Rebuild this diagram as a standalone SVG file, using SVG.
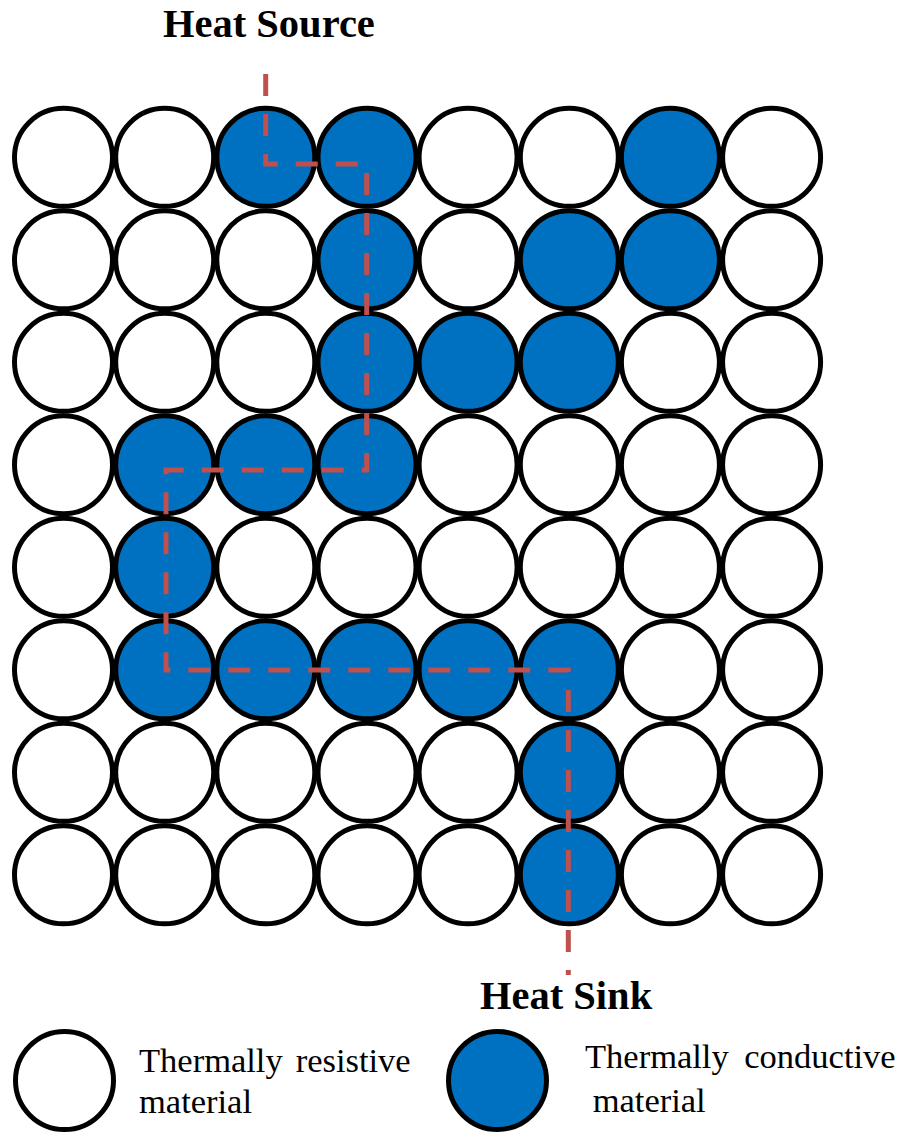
<svg xmlns="http://www.w3.org/2000/svg" width="905" height="1133" viewBox="0 0 905 1133">
<defs>
<style>
.r{fill:#FFFFFF;stroke:#000000;stroke-width:5}
.c{fill:#0070C0;stroke:#000000;stroke-width:5}
.path{fill:none;stroke:#C0504D;stroke-width:5;stroke-dasharray:22 18}
.title{font-family:"Liberation Serif","Times New Roman",serif;font-weight:bold;font-size:40.5px;fill:#000000}
.leg{font-family:"Liberation Serif","Times New Roman",serif;font-size:34.5px;fill:#000000}
</style>
</defs>
<rect width="905" height="1133" fill="#FFFFFF"/>
<g id="grid">
<g id="row1">
<circle class="r" cx="63.5" cy="157.3" r="49"/><circle class="r" cx="164.7" cy="157.3" r="49"/><circle class="c" cx="265.8" cy="157.3" r="49"/><circle class="c" cx="367" cy="157.3" r="49"/><circle class="r" cx="468.1" cy="157.3" r="49"/><circle class="r" cx="569.3" cy="157.3" r="49"/><circle class="c" cx="670.4" cy="157.3" r="49"/><circle class="r" cx="771.6" cy="157.3" r="49"/>
</g>
<g id="row2">
<circle class="r" cx="63.5" cy="259.8" r="49"/><circle class="r" cx="164.7" cy="259.8" r="49"/><circle class="r" cx="265.8" cy="259.8" r="49"/><circle class="c" cx="367" cy="259.8" r="49"/><circle class="r" cx="468.1" cy="259.8" r="49"/><circle class="c" cx="569.3" cy="259.8" r="49"/><circle class="c" cx="670.4" cy="259.8" r="49"/><circle class="r" cx="771.6" cy="259.8" r="49"/>
</g>
<g id="row3">
<circle class="r" cx="63.5" cy="362.3" r="49"/><circle class="r" cx="164.7" cy="362.3" r="49"/><circle class="r" cx="265.8" cy="362.3" r="49"/><circle class="c" cx="367" cy="362.3" r="49"/><circle class="c" cx="468.1" cy="362.3" r="49"/><circle class="c" cx="569.3" cy="362.3" r="49"/><circle class="r" cx="670.4" cy="362.3" r="49"/><circle class="r" cx="771.6" cy="362.3" r="49"/>
</g>
<g id="row4">
<circle class="r" cx="63.5" cy="464.8" r="49"/><circle class="c" cx="164.7" cy="464.8" r="49"/><circle class="c" cx="265.8" cy="464.8" r="49"/><circle class="c" cx="367" cy="464.8" r="49"/><circle class="r" cx="468.1" cy="464.8" r="49"/><circle class="r" cx="569.3" cy="464.8" r="49"/><circle class="r" cx="670.4" cy="464.8" r="49"/><circle class="r" cx="771.6" cy="464.8" r="49"/>
</g>
<g id="row5">
<circle class="r" cx="63.5" cy="567.3" r="49"/><circle class="c" cx="164.7" cy="567.3" r="49"/><circle class="r" cx="265.8" cy="567.3" r="49"/><circle class="r" cx="367" cy="567.3" r="49"/><circle class="r" cx="468.1" cy="567.3" r="49"/><circle class="r" cx="569.3" cy="567.3" r="49"/><circle class="r" cx="670.4" cy="567.3" r="49"/><circle class="r" cx="771.6" cy="567.3" r="49"/>
</g>
<g id="row6">
<circle class="r" cx="63.5" cy="669.8" r="49"/><circle class="c" cx="164.7" cy="669.8" r="49"/><circle class="c" cx="265.8" cy="669.8" r="49"/><circle class="c" cx="367" cy="669.8" r="49"/><circle class="c" cx="468.1" cy="669.8" r="49"/><circle class="c" cx="569.3" cy="669.8" r="49"/><circle class="r" cx="670.4" cy="669.8" r="49"/><circle class="r" cx="771.6" cy="669.8" r="49"/>
</g>
<g id="row7">
<circle class="r" cx="63.5" cy="772.3" r="49"/><circle class="r" cx="164.7" cy="772.3" r="49"/><circle class="r" cx="265.8" cy="772.3" r="49"/><circle class="r" cx="367" cy="772.3" r="49"/><circle class="r" cx="468.1" cy="772.3" r="49"/><circle class="c" cx="569.3" cy="772.3" r="49"/><circle class="r" cx="670.4" cy="772.3" r="49"/><circle class="r" cx="771.6" cy="772.3" r="49"/>
</g>
<g id="row8">
<circle class="r" cx="63.5" cy="874.8" r="49"/><circle class="r" cx="164.7" cy="874.8" r="49"/><circle class="r" cx="265.8" cy="874.8" r="49"/><circle class="r" cx="367" cy="874.8" r="49"/><circle class="r" cx="468.1" cy="874.8" r="49"/><circle class="c" cx="569.3" cy="874.8" r="49"/><circle class="r" cx="670.4" cy="874.8" r="49"/><circle class="r" cx="771.6" cy="874.8" r="49"/>
</g>
</g>
<g id="connectors">
<path class="path" d="M265.7,74 V164 H366.7 V470 H166 V670 H568.3 V975"/>
</g>
<g id="heat-source"><text class="title" x="163" y="36.7">Heat Source</text></g>
<g id="heat-sink"><text class="title" x="480" y="1009.3">Heat Sink</text></g>
<g id="legend-resistive">
<circle class="r" cx="64.5" cy="1080.5" r="49"/>
<text class="leg" x="139" y="1071.7">Thermally<tspan x="295.7">resistive</tspan></text>
<text class="leg" x="139" y="1113.3">material</text>
</g>
<g id="legend-conductive">
<circle class="c" cx="497.5" cy="1080.5" r="49"/>
<text class="leg" x="585" y="1068.3">Thermally<tspan x="744.3">conductive</tspan></text>
<text class="leg" x="592.7" y="1111.7">material</text>
</g>
</svg>
